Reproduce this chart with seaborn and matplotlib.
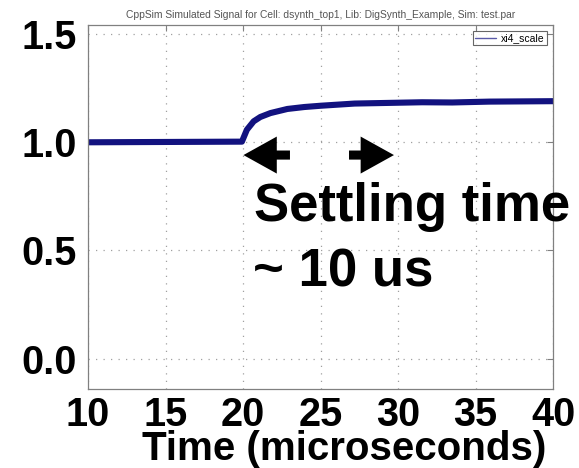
import matplotlib
matplotlib.use("Agg")
import matplotlib.pyplot as plt
from matplotlib.patches import FancyArrow
import seaborn as sns
import pandas as pd

# Simulated output of xi4_scale (time in microseconds)
time_us = [10.0, 19.93, 20.25, 20.69, 21.12, 21.77, 22.86, 23.95, 25.03,
           27.2, 29.38, 31.55, 33.5, 35.9, 38.0, 40.0]
xi4_scale = [1.0, 1.003, 1.058, 1.097, 1.117, 1.135, 1.154, 1.163, 1.169,
             1.179, 1.182, 1.185, 1.184, 1.188, 1.189, 1.190]

x_ticks = [10, 15, 20, 25, 30, 35, 40]
y_ticks = [0.0, 0.5, 1.0, 1.5]
y_tick_labels = ["0.0", "0.5", "1.0", "1.5"]

title = "CppSim Simulated Signal for Cell: dsynth_top1, Lib: DigSynth_Example, Sim: test.par"
x_label = "Time (microseconds)"
note_lines = ["Settling time", "~ 10 us"]

df = pd.DataFrame({"time": time_us, "xi4_scale": xi4_scale})

sns.set_style("white")
plt.rcParams["font.family"] = ["Liberation Sans", "DejaVu Sans"]
plt.rcParams["text.color"] = "black"
plt.rcParams["xtick.labelcolor"] = "black"
plt.rcParams["ytick.labelcolor"] = "black"
plt.rcParams["axes.labelcolor"] = "black"

fig = plt.figure(figsize=(5.79, 4.68), dpi=100)
ax = fig.add_axes([88 / 579, 1 - 389 / 468, (553 - 88) / 579, (389 - 25) / 468])

line_color = "#12127f"
sns.lineplot(data=df, x="time", y="xi4_scale", ax=ax, color=line_color,
             linewidth=4.4, label="xi4_scale", solid_capstyle="round")

ax.set_xlim(10, 40)
ax.set_ylim(-0.14, 1.542)
ax.set_xticks(x_ticks)
ax.set_yticks(y_ticks)
ax.set_yticklabels(y_tick_labels)

for lbl in ax.get_xticklabels() + ax.get_yticklabels():
    lbl.set_fontweight("bold")
    lbl.set_fontsize(28.5)
    lbl.set_color("black")

ax.tick_params(axis="both", direction="in", length=4, width=0.8, color="#808080",
               top=True, right=True)
ax.tick_params(axis="x", pad=5)
ax.tick_params(axis="y", pad=8)

ax.grid(True, color="#a0a0a0", linestyle=(0, (1, 5)), linewidth=0.9)
for sp in ax.spines.values():
    sp.set_color("#808080")
    sp.set_linewidth(0.9)

ax.set_xlabel(x_label, fontsize=29, fontweight="bold", labelpad=-2.5,
              color="black", x=0.55)
ax.set_ylabel("")
ax.set_title(title, fontsize=7.4, color="#555555", pad=5)

leg = ax.legend(loc="upper right", fontsize=7.5, frameon=True, fancybox=False,
                handlelength=2.0, handletextpad=0.5, borderpad=0.2,
                borderaxespad=0.6)
leg.get_frame().set_edgecolor("#404040")
leg.get_frame().set_linewidth(0.8)
for h in leg.get_lines():
    h.set_linewidth(1.0)
    h.set_color("#5a5aa8")

# Block arrows marking the settling interval
arrow_y = 0.941
arrow_kw = dict(width=0.042, head_width=0.171, head_length=2.15,
                length_includes_head=True, color="black", lw=0, zorder=4)
ax.add_patch(FancyArrow(23.03, arrow_y, -3.0, 0, **arrow_kw))
ax.add_patch(FancyArrow(26.84, arrow_y, 2.90, 0, **arrow_kw))

ax.text(20.7, 0.635, note_lines[0], fontsize=38, fontweight="bold",
        ha="left", va="baseline", clip_on=False, zorder=5)
ax.text(20.66, 0.335, note_lines[1], fontsize=38, fontweight="bold",
        ha="left", va="baseline", clip_on=False, zorder=5)

fig.savefig("out.png", dpi=100)
